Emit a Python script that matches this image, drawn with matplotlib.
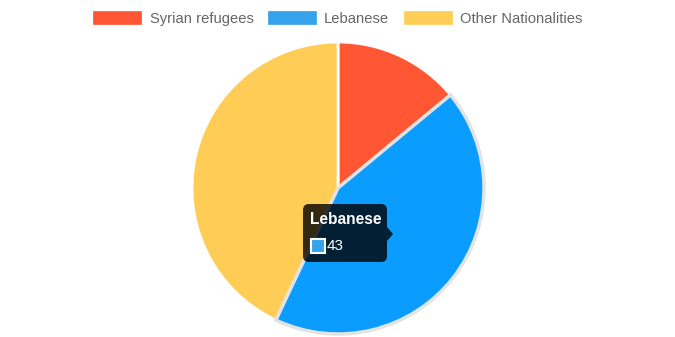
import matplotlib
matplotlib.use("Agg")
import matplotlib.pyplot as plt
from matplotlib.patches import Rectangle, FancyBboxPatch, Polygon

labels = ["Syrian refugees", "Lebanese", "Other Nationalities"]
values = [14, 43, 43]
colors = ["#FF5733", "#36A2EB", "#FFCE56"]
slice_colors = ["#FF5733", "#0A9CFF", "#FFCD56"]
hover_idx = 1

W, H = 675, 337
fig = plt.figure(figsize=(W / 100, H / 100), dpi=100)
ax = fig.add_axes([0, 0, 1, 1])

cx, cy, r = 338, H - 188, 146
wedges, _ = ax.pie(values, colors=slice_colors, startangle=90, counterclock=False,
                   center=(cx, cy), radius=r, frame=True,
                   wedgeprops=dict(edgecolor="white", linewidth=2))
ax.set_xlim(0, W)
ax.set_ylim(0, H)
ax.set_aspect("equal")
ax.axis("off")
wedges[hover_idx].set_edgecolor("#E3E3E3")
wedges[hover_idx].set_linewidth(2.5)
wedges[hover_idx].set_zorder(3)

# legend
fs = 10.6
handles = [Rectangle((0, 0), 1, 1, facecolor=c, edgecolor=c, linewidth=0.5) for c in colors]
leg = fig.legend(handles, labels, loc="center", bbox_to_anchor=(338 / W, 1 - 18.5 / H),
                 ncol=3, frameon=False, handlelength=3.26, handleheight=0.98,
                 handletextpad=0.55, columnspacing=1.0,
                 prop={"family": "Liberation Sans", "size": fs})
for t in leg.get_texts():
    t.set_color("#666666")

# tooltip for hovered slice
bx0, bx1, by0, by1 = 303, 387, H - 262, H - 204
tip = FancyBboxPatch((bx0 + 6, by0 + 6), bx1 - bx0 - 12, by1 - by0 - 12,
                     boxstyle="round,pad=6", facecolor="black", alpha=0.8,
                     edgecolor="none", zorder=5)
ax.add_patch(tip)
ax.add_patch(Polygon([(bx1, H - 227), (bx1 + 6, H - 234), (bx1, H - 241)],
                     closed=True, facecolor="black", alpha=0.8, edgecolor="none", zorder=5))
ax.text(310, H - 220, labels[hover_idx], color="white", fontsize=11.2, fontweight="bold",
        va="center", ha="left", family="Liberation Sans", zorder=6)
ax.add_patch(Rectangle((310.5, H - 252.5), 14, 14, facecolor=colors[hover_idx],
                       edgecolor="white", linewidth=1.5, zorder=6))
ax.text(327, H - 245.5, str(values[hover_idx]), color="white", fontsize=11,
        va="center", ha="left", family="Liberation Sans", zorder=6)

fig.savefig("out.png", dpi=100)
